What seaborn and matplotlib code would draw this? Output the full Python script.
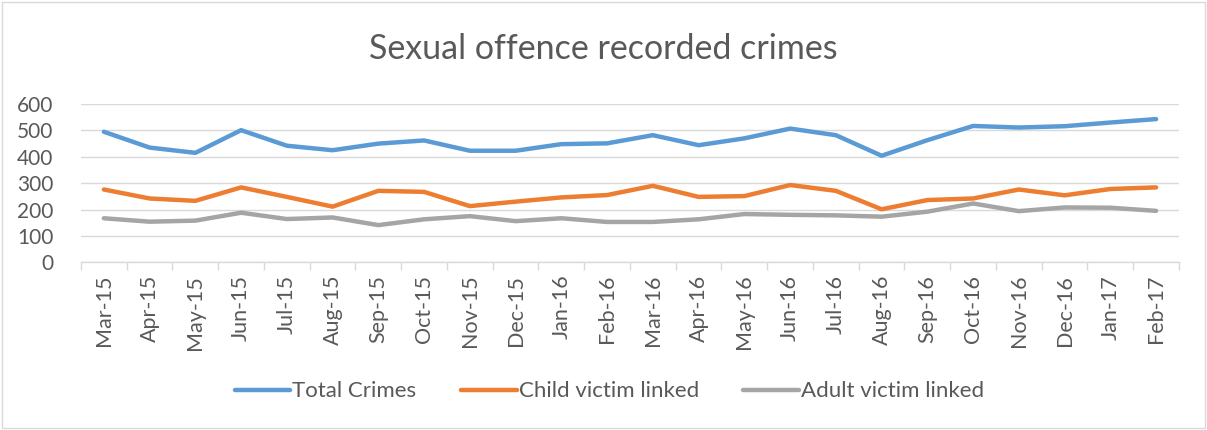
import matplotlib
matplotlib.use("Agg")
import matplotlib.pyplot as plt
import seaborn as sns
import pandas as pd
import numpy as np
from matplotlib.patches import Rectangle
from matplotlib.lines import Line2D
from matplotlib.ticker import FixedLocator, MultipleLocator

months = ["Mar-15", "Apr-15", "May-15", "Jun-15", "Jul-15", "Aug-15", "Sep-15", "Oct-15",
          "Nov-15", "Dec-15", "Jan-16", "Feb-16", "Mar-16", "Apr-16", "May-16", "Jun-16",
          "Jul-16", "Aug-16", "Sep-16", "Oct-16", "Nov-16", "Dec-16", "Jan-17", "Feb-17"]
total_crimes = [495, 435, 415, 501, 442, 425, 450, 462, 423, 423, 448, 451, 482, 444, 470, 507,
                482, 404, 463, 517, 511, 516, 530, 543]
child_victim = [276, 242, 233, 284, 248, 211, 271, 267, 213, 230, 246, 255, 290, 248, 251, 293,
                271, 201, 236, 242, 276, 254, 278, 284]
adult_victim = [167, 154, 158, 188, 164, 170, 141, 163, 175, 156, 167, 153, 153, 163, 183, 180,
                178, 173, 192, 223, 194, 208, 207, 195]
series_names = ["Total Crimes", "Child victim linked", "Adult victim linked"]
colors = ["#5B9BD5", "#ED7D31", "#A5A5A5"]
title = "Sexual offence recorded crimes"

rows = []
for name, vals in zip(series_names, [total_crimes, child_victim, adult_victim]):
    for i, v in enumerate(vals):
        rows.append({"idx": i, "value": v, "series": name})
df = pd.DataFrame(rows)

sns.set_theme(style="white")
plt.rcParams["font.family"] = ["Lato", "DejaVu Sans"]
text_color = "#595959"

fig = plt.figure(figsize=(12.07, 4.30), dpi=100)
ax = fig.add_axes([0.0671, 0.39, 0.9097, 0.368])

sns.lineplot(data=df, x="idx", y="value", hue="series", hue_order=series_names,
             palette=colors, linewidth=3.2, ax=ax, legend=False, sort=False)

n = len(months)
ax.set_xlim(-0.5, n - 0.5)
ax.set_ylim(0, 600)
ax.yaxis.set_major_locator(MultipleLocator(100))
ax.grid(axis="y", color="#D9D9D9", linewidth=1.0)
ax.set_axisbelow(True)
ax.set_xlabel("")
ax.set_ylabel("")

ax.set_xticks(np.arange(n))
ax.set_xticklabels(months, rotation=90, fontsize=15.5, color=text_color)
ax.xaxis.set_minor_locator(FixedLocator(np.arange(n + 1) - 0.5))
ax.tick_params(axis="x", which="major", length=0, pad=9)
ax.tick_params(axis="x", which="minor", length=6, width=1, color="#D9D9D9", direction="out", bottom=True)
ax.tick_params(axis="y", length=0, labelsize=15, labelcolor=text_color, pad=20)

for s in ["top", "right", "left"]:
    ax.spines[s].set_visible(False)
ax.spines["bottom"].set_color("#D9D9D9")
ax.spines["bottom"].set_linewidth(1.0)

fig.text(0.5, 0.885, title, ha="center", va="center", fontsize=24.5, color=text_color)

handles = [Line2D([0], [0], color=c, linewidth=3.2, solid_capstyle="round") for c in colors]
fig.legend(handles, series_names, loc="center", bbox_to_anchor=(0.505, 0.09), ncol=3,
           frameon=False, fontsize=16, labelcolor=text_color, handlelength=2.5,
           handletextpad=0.1, columnspacing=2.0)

fig.patches.append(Rectangle((0.002, 0.004), 0.996, 0.992, transform=fig.transFigure,
                             fill=False, edgecolor="#D9D9D9", linewidth=1.0))

fig.savefig("out.png", dpi=100)
